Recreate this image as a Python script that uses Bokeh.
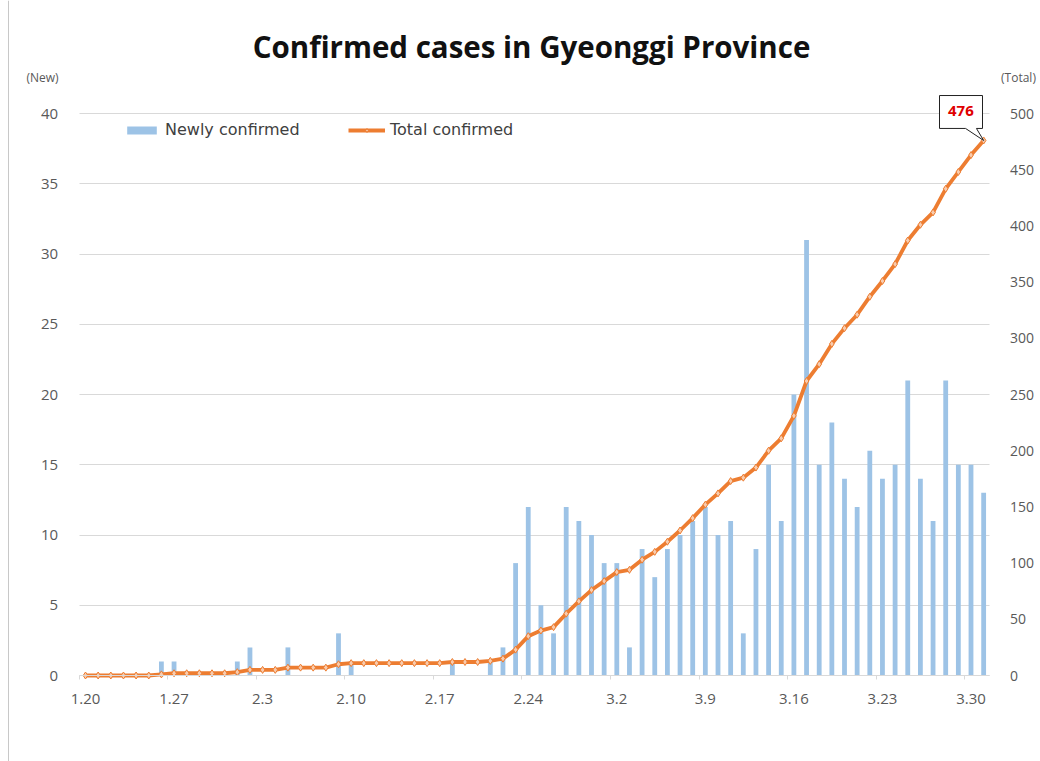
import pandas as pd
from bokeh.plotting import figure
from bokeh.models import (Range1d, LinearAxis, FixedTicker, Label, Legend,
                          LegendItem, ColumnDataSource, Span)
from bokeh.core.properties import value
from bokeh.embed import file_html
from bokeh.resources import INLINE

# ---------------- data ----------------
dates = [f"{d.month}.{d.day}" for d in pd.date_range("2020-01-20", "2020-03-31")]

new_cases = [0, 0, 0, 0, 0, 0, 1, 1, 0, 0,
             0, 0, 1, 2, 0, 0, 2, 0, 0, 0,
             3, 1, 0, 0, 0, 0, 0, 0, 0, 1,
             0, 0, 1, 2, 8, 12, 5, 3, 12, 11,
             10, 8, 8, 2, 9, 7, 9, 10, 11, 12,
             10, 11, 3, 9, 15, 11, 20, 31, 15, 18,
             14, 12, 16, 14, 15, 21, 14, 11, 21, 15,
             15, 13]

total_cases = [0, 0, 0, 0, 0, 0, 1, 2, 2, 2,
               2, 2, 3, 5, 5, 5, 7, 7, 7, 7,
               10, 11, 11, 11, 11, 11, 11, 11, 11, 12,
               12, 12, 13, 15, 23, 35, 40, 43, 55, 66,
               76, 84, 92, 94, 103, 110, 119, 129, 140, 152,
               162, 173, 176, 185, 200, 211, 231, 262, 277, 295,
               309, 321, 337, 351, 366, 387, 401, 412, 433, 448,
               463, 476]

tick_labels = ["1.20", "1.27", "2.3", "2.10", "2.17", "2.24",
               "3.2", "3.9", "3.16", "3.23", "3.30"]
left_ticks = [0, 5, 10, 15, 20, 25, 30, 35, 40]
right_ticks = [0, 50, 100, 150, 200, 250, 300, 350, 400, 450, 500]

title_text = "Confirmed cases in Gyeonggi Province"
series_names = ["Newly confirmed", "Total confirmed"]
unit_labels = ["(New)", "(Total)"]

# ---------------- layout constants (pixels) ----------------
W, H = 1040, 761
X0_PX, DX_PX = 85.0, 12.65          # centre of first category, category pitch
Y0_PX, DY_PX = 675.0, 562.0 / 40.0  # zero line, pixels per new-case unit
RATIO = right_ticks[-1] / left_ticks[-1]

def xd(px):
    return (px - X0_PX) / DX_PX

def yd(py):
    return (Y0_PX - py) / DY_PX

n = len(dates)
idx = list(range(n))
src = ColumnDataSource(dict(x=idx, new=new_cases, total=total_cases, date=dates))

BAR = "#9DC3E6"
LINE = "#ED7D31"
TXT = "#595959"
FONT = "Open Sans"

p = figure(width=W, height=H, output_backend="svg", toolbar_location=None,
           x_range=Range1d(xd(0), xd(W)), y_range=Range1d(yd(H), yd(0)),
           min_border_left=0, min_border_right=0, min_border_top=0,
           min_border_bottom=0)
p.extra_y_ranges = {"total": Range1d(yd(H) * RATIO, yd(0) * RATIO)}
p.outline_line_color = None
p.background_fill_color = "white"
p.border_fill_color = "white"

x_lo, x_hi = -0.5, n - 0.5

# grid
p.xgrid.grid_line_color = None
p.ygrid.grid_line_color = "#D9D9D9"
p.ygrid.ticker = FixedTicker(ticks=left_ticks)
p.ygrid.cross_bounds = (x_lo, x_hi)

# x axis
tick_pos = [dates.index(t) for t in tick_labels]
xa = p.xaxis[0]
xa.fixed_location = 0
xa.bounds = (x_lo, x_hi)
xa.ticker = FixedTicker(ticks=tick_pos)
xa.major_label_overrides = {i: t for i, t in zip(tick_pos, tick_labels)}
xa.axis_line_color = "#D9D9D9"
xa.major_tick_line_color = None
xa.minor_tick_line_color = None
xa.major_label_standoff = 12
xa.major_label_text_font = FONT
xa.major_label_text_font_size = "15px"
xa.major_label_text_color = TXT

# small tick marks between categories
xt = LinearAxis(fixed_location=0, bounds=(x_lo, x_hi),
                ticker=FixedTicker(ticks=[t - 0.5 for t in tick_pos]))
xt.axis_line_color = None
xt.major_tick_line_color = "#D9D9D9"
xt.major_tick_in = 0
xt.major_tick_out = 4
xt.minor_tick_line_color = None
xt.major_label_text_alpha = 0
p.add_layout(xt, "below")

# left axis
ya = p.yaxis[0]
ya.fixed_location = x_lo
ya.ticker = FixedTicker(ticks=left_ticks)
ya.axis_line_color = None
ya.major_tick_line_color = None
ya.minor_tick_line_color = None
ya.major_label_standoff = 15
ya.major_label_text_font = FONT
ya.major_label_text_font_size = "15px"
ya.major_label_text_color = TXT

# right axis
ra = LinearAxis(y_range_name="total", fixed_location=x_hi,
                ticker=FixedTicker(ticks=right_ticks))
ra.axis_line_color = None
ra.major_tick_line_color = None
ra.minor_tick_line_color = None
ra.major_label_standoff = 14
ra.major_label_text_font = FONT
ra.major_label_text_font_size = "14px"
ra.major_label_text_color = TXT
p.add_layout(ra, "right")

# chart border line on the left
p.add_layout(Span(location=xd(8), dimension="height", line_color="#C8C8C8",
                  line_width=1))

# glyphs
bars = p.vbar(x="x", top="new", width=0.38, source=src, fill_color=BAR,
              line_color=None)
ln = p.line(x="x", y="total", source=src, y_range_name="total",
            line_color=LINE, line_width=3.8)
mk = p.scatter(x="x", y="total", source=src, y_range_name="total",
               marker="diamond", size=7, fill_color="#F8CBAD",
               line_color=LINE, line_width=1)

# legends (two, positioned independently)
for items, loc in (([LegendItem(label=series_names[0], renderers=[bars])], (123, 622)),
                   ([LegendItem(label=series_names[1], renderers=[ln, mk])], (348, 622))):
    lg = Legend(items=items, location=loc, orientation="horizontal",
                glyph_width=37, glyph_height=10, label_standoff=5, padding=0,
                margin=0, border_line_color=None, background_fill_alpha=0,
                label_text_font="DejaVu Sans", label_text_font_size="16px",
                label_text_color="#404040")
    p.add_layout(lg)

# title and unit labels
p.add_layout(Label(x=xd(531), y=yd(46), text=title_text,
                   text_align="center", text_baseline="middle",
                   text_font=FONT, text_font_style="bold",
                   text_font_size="29.5px", text_color="#111111"))
p.add_layout(Label(x=xd(42), y=yd(77), text=unit_labels[0], text_align="center",
                   text_baseline="middle", text_font=FONT,
                   text_font_size="12px", text_color=TXT))
p.add_layout(Label(x=xd(1018), y=yd(77), text=unit_labels[1],
                   text_align="center", text_baseline="middle", text_font=FONT,
                   text_font_size="12px", text_color=TXT))

# callout for the last total
lx, ly = idx[-1], total_cases[-1]
cdx = [-3.49, -0.09, -0.09, -0.57, 0.0, -1.43, -3.49]
cdy = [40.0, 40.0, 10.7, 10.7, 0.0, 10.7, 10.7]
p.patch(x=[lx + d for d in cdx], y=[ly + d for d in cdy], y_range_name="total",
        fill_color="white", line_color="#222222", line_width=1)
p.text(x=[lx - 1.8], y=[ly + 26], text=[str(ly)], y_range_name="total",
       text_align="center", text_baseline="middle", text_color="#E00000",
       text_font=value(FONT), text_font_style="bold", text_font_size="15px")

open("out.html", "w").write(file_html(p, INLINE))
